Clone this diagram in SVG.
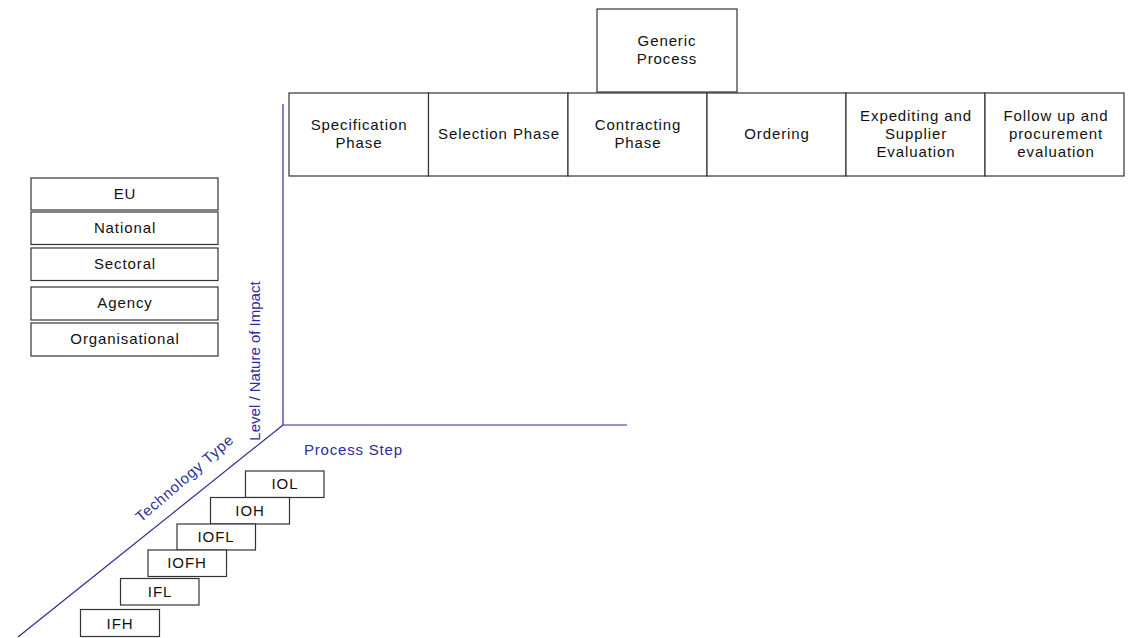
<svg xmlns="http://www.w3.org/2000/svg" width="1128" height="638" viewBox="0 0 1128 638">
<style>
.b{fill:#fff;stroke:#333;stroke-width:1.2}
.t{font-family:"Liberation Sans",Arial,sans-serif;font-size:15px;letter-spacing:0.9px;fill:#111;text-anchor:middle}
.ax{stroke:#2c2c9c;stroke-width:1.2;fill:none}
.at{font-family:"Liberation Sans",Arial,sans-serif;font-size:15px;fill:#2c2c9c;text-anchor:middle}
</style>
<rect width="1128" height="638" fill="#fff"/>
<g id="connectors">
<line class="ax" x1="283" y1="104" x2="283" y2="425"/>
<line class="ax" x1="283" y1="425" x2="627" y2="425"/>
<line class="ax" x1="283" y1="425" x2="18" y2="637"/>
</g>
<g id="axis-labels">
<text class="at" x="304" y="455" style="text-anchor:start;letter-spacing:0.8px">Process Step</text>
<text class="at" transform="translate(260,361) rotate(-90)">Level / Nature of Impact</text>
<text class="at" style="letter-spacing:0.8px" transform="translate(188,482) rotate(-41)">Technology Type</text>
</g>
<g id="generic-process"><rect class="b" x="597" y="9" width="140" height="83"/><text class="t" x="667" y="46">Generic</text><text class="t" x="667" y="64">Process</text></g>
<g id="spec"><rect class="b" x="289" y="93" width="139.5" height="83"/><text class="t" x="359" y="130">Specification</text><text class="t" x="359" y="148">Phase</text></g>
<g id="selection"><rect class="b" x="428.5" y="93" width="139.5" height="83"/><text class="t" x="499" y="139">Selection Phase</text></g>
<g id="contracting"><rect class="b" x="568" y="93" width="139" height="83"/><text class="t" x="638" y="130">Contracting</text><text class="t" x="638" y="148">Phase</text></g>
<g id="ordering"><rect class="b" x="707" y="93" width="139" height="83"/><text class="t" x="777" y="139">Ordering</text></g>
<g id="expediting"><rect class="b" x="846" y="93" width="139" height="83"/><text class="t" x="916" y="121">Expediting and</text><text class="t" x="916" y="139">Supplier</text><text class="t" x="916" y="157">Evaluation</text></g>
<g id="followup"><rect class="b" x="985" y="93" width="139" height="83"/><text class="t" x="1056" y="121">Follow up and</text><text class="t" x="1056" y="139">procurement</text><text class="t" x="1056" y="157">evaluation</text></g>
<g id="eu"><rect class="b" x="31" y="178" width="187" height="32"/><text class="t" x="125" y="199">EU</text></g>
<g id="national"><rect class="b" x="31" y="212" width="187" height="32.5"/><text class="t" x="125" y="233">National</text></g>
<g id="sectoral"><rect class="b" x="31" y="248" width="187" height="32.5"/><text class="t" x="125" y="269">Sectoral</text></g>
<g id="agency"><rect class="b" x="31" y="287" width="187" height="33"/><text class="t" x="125" y="308">Agency</text></g>
<g id="organisational"><rect class="b" x="31" y="323" width="187" height="33"/><text class="t" x="125" y="344">Organisational</text></g>
<g id="iol"><rect class="b" x="245.5" y="471" width="78.5" height="26.5"/><text class="t" x="285" y="489">IOL</text></g>
<g id="ioh"><rect class="b" x="210.5" y="497.5" width="79" height="26.5"/><text class="t" x="250" y="516">IOH</text></g>
<g id="iofl"><rect class="b" x="177" y="524" width="78.5" height="26"/><text class="t" x="216" y="542">IOFL</text></g>
<g id="iofh"><rect class="b" x="148" y="550" width="78.5" height="26.5"/><text class="t" x="187" y="568">IOFH</text></g>
<g id="ifl"><rect class="b" x="120.5" y="578.5" width="78.5" height="26.5"/><text class="t" x="160" y="597">IFL</text></g>
<g id="ifh"><rect class="b" x="80.5" y="609.5" width="79" height="27"/><text class="t" x="120" y="629">IFH</text></g>
</svg>
